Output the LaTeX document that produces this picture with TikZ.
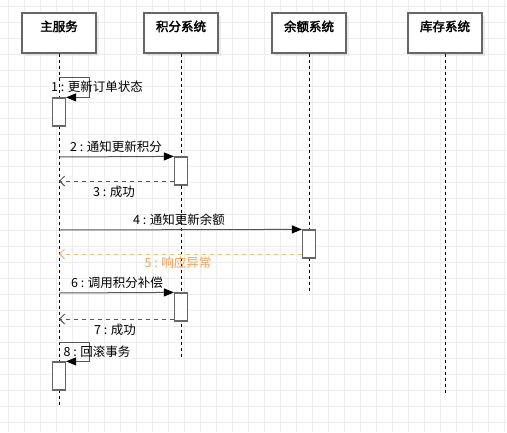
\documentclass[tikz,border=0pt]{standalone}
\usepackage{fontspec}
\setmainfont{Noto Sans CJK SC}[BoldFont={Noto Sans CJK SC},BoldFeatures={FakeBold=2.5}]
\usetikzlibrary{arrows.meta,shadows}
\definecolor{boxgray}{HTML}{666666}
\definecolor{msggray}{HTML}{555555}
\definecolor{gridgray}{HTML}{EDEDED}
\definecolor{errline}{HTML}{F7B57E}
\definecolor{errtext}{HTML}{F0A05A}
\begin{document}
\begin{tikzpicture}[x=1pt,y=-1pt,
  font=\fontsize{12.5}{15}\selectfont,
  actor/.style={draw=boxgray, line width=1.2pt, fill=white, minimum width=74pt, minimum height=40pt, inner sep=0pt, drop shadow={shadow xshift=3pt, shadow yshift=-3pt, opacity=0.15}},
  title/.style={anchor=north, inner sep=0pt, yshift=-8pt, font=\fontsize{12.5}{15}\selectfont\bfseries},
  act/.style={draw=boxgray, line width=1.2pt, fill=white, minimum width=13pt, minimum height=28pt, inner sep=0pt},
  life/.style={line width=1pt, dash pattern=on 3pt off 3pt},
  msg/.style={draw=msggray, line width=1pt, -{Triangle[length=10pt,width=8pt,color=black]}},
  ret/.style={draw=msggray, line width=1pt, dash pattern=on 4pt off 4pt, -{Straight Barb[length=5pt,width=10pt]}},
  err/.style={ret, draw=errline},
  lab/.style={inner sep=1pt}]
\fill[white] (0,0) rectangle (507,432);
\useasboundingbox (0,0) rectangle (507,432);
\draw[gridgray, line width=0.6pt, shift={(8,6)}] (-8,-6) grid[step=16pt] (499,426);
\node[actor, label={[title]north:主服务}] (p0) at (59,33){};
\node[actor, label={[title]north:积分系统}] (p1) at (181,33){};
\node[actor, label={[title]north:余额系统}] (p2) at (309,33){};
\node[actor, label={[title]north:库存系统}] (p3) at (445,33){};
\coordinate (end0) at (59,406);
\coordinate (end1) at (181,357);
\coordinate (end2) at (309,291);
\coordinate (end3) at (445,395);
\draw[life](p0) -- (end0);
\draw[life](p1) -- (end1);
\draw[life](p2) -- (end2);
\draw[life](p3) -- (end3);
\node[act] (act0) at (59,112){};
\node[act] (act1) at (181,171){};
\node[act] (act2) at (309,244){};
\node[act] (act3) at (181,307){};
\node[act] (act4) at (59,376){};
\coordinate (c1) at (59,77);
\coordinate (c2) at (59,157);
\coordinate (c3) at (59,181);
\coordinate (c4) at (59,230);
\coordinate (c5) at (59,254);
\coordinate (c6) at (59,293);
\coordinate (c7) at (59,319);
\coordinate (c8) at (59,342);
\draw[msg](c1) -- ++(30,0) |- (act0.north east);
\draw[msg](c2) -- (act1.north west);
\draw[ret](act1.west |- c3) -- (c3);
\draw[msg](c4) -- (act2.north west);
\draw[err](act2.west |- c5) -- (c5);
\draw[msg](c6) -- (act3.north west);
\draw[ret](act3.west |- c7) -- (c7);
\draw[msg](c8) -- ++(30,0) |- (act4.north east);
\node[lab] (lab1) at (97,87){1 : 更新订单状态};
\node[lab] (lab2) at (116,147){2 : 通知更新积分};
\node[lab] (lab3) at (114,192){3 : 成功};
\node[lab] (lab4) at (179,220){4 : 通知更新余额};
\node[lab, text=errtext] (lab5) at (178,263){5 : 响应异常};
\node[lab] (lab6) at (117,283){6 : 调用积分补偿};
\node[lab] (lab7) at (115,330){7 : 成功};
\node[lab] (lab8) at (97,352){8 : 回滚事务};
\end{tikzpicture}
\end{document}
